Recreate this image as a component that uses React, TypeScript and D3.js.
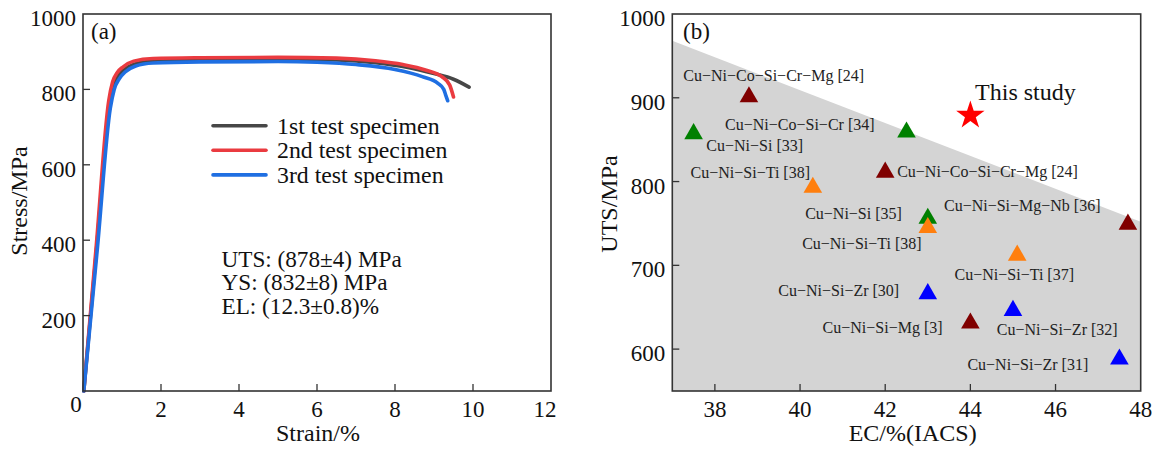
import React from 'react';
import * as d3 from 'd3';

// ---------- Panel (a) data ----------
const strainTicks = [0, 2, 4, 6, 8, 10, 12];
const stressTicks = [200, 400, 600, 800, 1000];
const specimenNames = ['1st test specimen', '2nd test specimen', '3rd test specimen'];
const specimen1: [number, number][] = [
  [0.02, 0], [0.35, 380], [0.68, 760], [0.78, 810], [0.9, 836], [1.05, 852],
  [1.3, 866], [1.8, 875], [3, 879], [5, 880], [6.5, 878], [7.5, 871], [8.3, 859], [9.0, 842],
  [9.5, 827], [9.9, 806],
];
const specimen2: [number, number][] = [
  [0.02, 0], [0.34, 385], [0.66, 770], [0.76, 820], [0.88, 845], [1.03, 860],
  [1.3, 875], [1.8, 882], [3, 884], [5, 885], [6.5, 883], [7.5, 876], [8.2, 866], [8.8, 851],
  [9.2, 834], [9.4, 812], [9.5, 780],
];
const specimen3: [number, number][] = [
  [0.02, 0], [0.37, 380], [0.7, 750], [0.8, 800], [0.93, 828], [1.08, 846],
  [1.35, 862], [1.8, 870], [3, 873], [5, 874], [6, 872], [7, 866], [8, 853], [8.7, 834],
  [9.1, 816], [9.25, 800], [9.3, 785], [9.35, 770],
];
const specimens = [specimen1, specimen2, specimen3];
const propertyLines = ['UTS: (878\u00b14) MPa', 'YS: (832\u00b18) MPa', 'EL: (12.3\u00b10.8)%'];

// ---------- Panel (b) data ----------
const ecTicks = [38, 40, 42, 44, 46, 48];
const utsTicks = [600, 700, 800, 900, 1000];
const boundaryEC = [37, 48];
const boundaryUTS = [968, 752];
const refEC = [38.8, 37.5, 42.5, 42.0, 40.3, 43.0, 43.0, 47.7, 45.1, 43.0, 45.0, 44.0, 47.5];
const refUTS = [901, 857, 859, 811, 793, 756, 745, 749, 712, 666, 646, 631, 588];
const refGroup = ['maroon', 'green', 'green', 'maroon', 'orange', 'green', 'orange', 'maroon', 'orange', 'blue', 'blue', 'maroon', 'blue'];
const labelText = [
  'Cu\u2212Ni\u2212Co\u2212Si\u2212Cr\u2212Mg [24]',
  'Cu\u2212Ni\u2212Co\u2212Si\u2212Cr [34]',
  'Cu\u2212Ni\u2212Si [33]',
  'Cu\u2212Ni\u2212Si\u2212Ti [38]',
  'Cu\u2212Ni\u2212Co\u2212Si\u2212Cr\u2212Mg [24]',
  'Cu\u2212Ni\u2212Si\u2212Mg\u2212Nb [36]',
  'Cu\u2212Ni\u2212Si [35]',
  'Cu\u2212Ni\u2212Si\u2212Ti [38]',
  'Cu\u2212Ni\u2212Si\u2212Ti [37]',
  'Cu\u2212Ni\u2212Si\u2212Zr [30]',
  'Cu\u2212Ni\u2212Si\u2212Mg [3]',
  'Cu\u2212Ni\u2212Si\u2212Zr [32]',
  'Cu\u2212Ni\u2212Si\u2212Zr [31]',
];
const labelEC = [37.26, 38.24, 37.8, 37.43, 42.28, 43.38, 40.12, 40.05, 43.63, 39.49, 40.53, 44.62, 43.93];
const labelUTS = [920, 862, 837, 804, 805, 765, 755, 720, 682, 663, 619, 617, 575];
const studyEC = 44;
const studyUTS = 879;
const studyLabel = 'This study';

const groupColor: Record<string, string> = {
  maroon: '#800000',
  green: '#008000',
  orange: '#ff7f0e',
  blue: '#0000ff',
};
const specimenColors = ['#474747', '#ea3b40', '#1f6fe2'];
const FONT = '"Liberation Serif", "Times New Roman", serif';
const FRAME = '#333';

export default function App() {
  const top = 14, bottom = 391;
  const xa = d3.scaleLinear().domain([0, 12]).range([83, 551]);
  const ya = d3.scaleLinear().domain([0, 1000]).range([bottom, top]);
  const xb = d3.scaleLinear().domain([37, 48]).range([672.3, 1140.7]);
  const yb = d3.scaleLinear().domain([550, 1000]).range([bottom, top]);
  const line = d3.line<[number, number]>().x(d => xa(d[0])).y(d => ya(d[1])).curve(d3.curveMonotoneX);
  const tri = d3.symbol().type(d3.symbolTriangle).size(150)()!;
  const star = d3.symbol().type(d3.symbolStar).size(250)()!;
  const poly = [
    [xb(boundaryEC[0]), yb(boundaryUTS[0])],
    [xb(boundaryEC[1]), yb(boundaryUTS[1])],
    [xb(boundaryEC[1]), yb(550)],
    [xb(boundaryEC[0]), yb(550)],
  ];
  const tickLen = 7;

  return (
    <svg width={1158} height={449} style={{ position: 'absolute', left: 0, top: 0, background: '#fff' }} fontFamily={FONT}>
      {/* ---------- Panel (a) ---------- */}
      <g>
        {specimens.map((s, i) => (
          <path key={i} d={line(s)!} fill="none" stroke={specimenColors[i]} strokeWidth={3.6} strokeLinejoin="round" strokeLinecap="round" />
        ))}
        <rect x={xa(0)} y={top} width={xa(12) - xa(0)} height={bottom - top} fill="none" stroke={FRAME} strokeWidth={1.6} />
        {strainTicks.map(t => (
          <g key={t}>
            {t > 0 && t < 12 && <line x1={xa(t)} x2={xa(t)} y1={bottom} y2={bottom - tickLen} stroke={FRAME} strokeWidth={1.3} />}
            <text x={xa(t) + (t === 0 ? -7 : t === 12 ? -6 : 0)} y={t === 0 ? 411.5 : 416.5} fontSize={23} textAnchor="middle" fill="#111">{t}</text>
          </g>
        ))}
        {stressTicks.map(t => (
          <g key={t}>
            {t < 1000 && <line x1={xa(0)} x2={xa(0) + tickLen} y1={ya(t)} y2={ya(t)} stroke={FRAME} strokeWidth={1.3} />}
            <text x={xa(0) - 7} y={ya(t) + 12} fontSize={23} textAnchor="end" fill="#111">{t}</text>
          </g>
        ))}
        <text x={318} y={441} fontSize={24} textAnchor="middle" fill="#111">Strain/%</text>
        <text transform={`translate(27,${201}) rotate(-90)`} fontSize={24} textAnchor="middle" fill="#111">Stress/MPa</text>
        <text x={91} y={39} fontSize={23} fill="#111">(a)</text>
        {specimenNames.map((n, i) => (
          <g key={n}>
            <line x1={213} x2={266} y1={125.7 + i * 24.6} y2={125.7 + i * 24.6} stroke={specimenColors[i]} strokeWidth={3.6} strokeLinecap="round" />
            <text x={277} y={134 + i * 24.4} fontSize={23.8} fill="#111">{n}</text>
          </g>
        ))}
        {propertyLines.map((l, i) => (
          <text key={l} x={221.5} y={266.5 + i * 23.5} fontSize={23.2} fill="#111">{l}</text>
        ))}
      </g>

      {/* ---------- Panel (b) ---------- */}
      <g>
        <polygon points={poly.map(p => p.join(',')).join(' ')} fill="#d4d4d4" />
        {refEC.map((e, i) => (
          <path key={i} d={tri} transform={`translate(${xb(e)},${yb(refUTS[i])})`} fill={groupColor[refGroup[i]]} />
        ))}
        <path d={star} transform={`translate(${xb(studyEC)},${yb(studyUTS)})`} fill="#ff0000" />
        {labelText.map((t, i) => (
          <text key={i} x={xb(labelEC[i])} y={yb(labelUTS[i])} fontSize={16} fill="#222">{t}</text>
        ))}
        <text x={xb(44.11)} y={yb(897)} fontSize={24} fill="#111">{studyLabel}</text>
        <rect x={xb(37)} y={top} width={xb(48) - xb(37)} height={bottom - top} fill="none" stroke={FRAME} strokeWidth={1.6} />
        {ecTicks.map(t => (
          <g key={t}>
            {t < 48 && <line x1={xb(t)} x2={xb(t)} y1={bottom} y2={bottom - tickLen} stroke={FRAME} strokeWidth={1.3} />}
            <text x={xb(t)} y={416.5} fontSize={23} textAnchor="middle" fill="#111">{t}</text>
          </g>
        ))}
        {utsTicks.map(t => (
          <g key={t}>
            {t < 1000 && <line x1={xb(37)} x2={xb(37) + tickLen} y1={yb(t)} y2={yb(t)} stroke={FRAME} strokeWidth={1.3} />}
            <text x={xb(37) - 7} y={yb(t) + 12} fontSize={23} textAnchor="end" fill="#111">{t}</text>
          </g>
        ))}
        <text x={912.7} y={441} fontSize={24} textAnchor="middle" fill="#111">EC/%(IACS)</text>
        <text transform={`translate(617,${204}) rotate(-90)`} fontSize={24} textAnchor="middle" fill="#111">UTS/MPa</text>
        <text x={683} y={39} fontSize={23} fill="#111">(b)</text>
      </g>
    </svg>
  );
}
